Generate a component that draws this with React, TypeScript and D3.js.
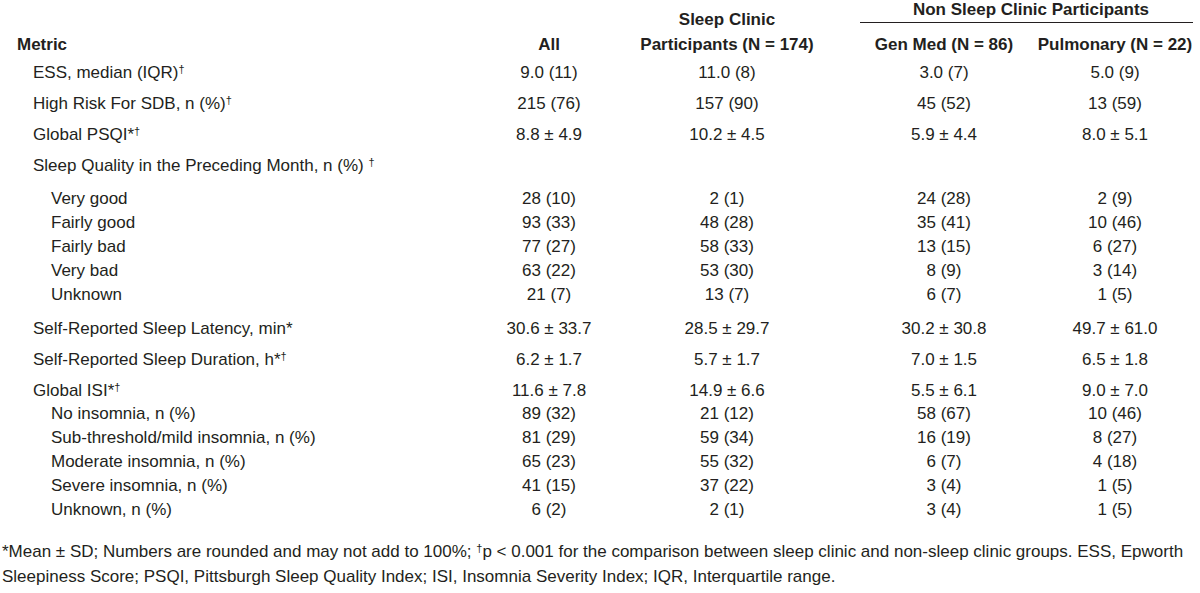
import React from "react";
import * as d3 from "d3";

const width = 1200;
const height = 593;
const font = "'Liberation Sans', Arial, Helvetica, sans-serif";

const columns = ["All", "Sleep Clinic Participants (N = 174)", "Gen Med (N = 86)", "Pulmonary (N = 22)"];
const groupHeader = "Non Sleep Clinic Participants";

// level 0 = main metric, 1 = sub-category
const rowLabels = [
  "ESS, median (IQR)†",
  "High Risk For SDB, n (%)†",
  "Global PSQI*†",
  "Sleep Quality in the Preceding Month, n (%) †",
  "Very good",
  "Fairly good",
  "Fairly bad",
  "Very bad",
  "Unknown",
  "Self-Reported Sleep Latency, min*",
  "Self-Reported Sleep Duration, h*†",
  "Global ISI*†",
  "No insomnia, n (%)",
  "Sub-threshold/mild insomnia, n (%)",
  "Moderate insomnia, n (%)",
  "Severe insomnia, n (%)",
  "Unknown, n (%)",
];
const rowLevels = [0, 0, 0, 0, 1, 1, 1, 1, 1, 0, 0, 0, 1, 1, 1, 1, 1];

const allValues = ["9.0 (11)", "215 (76)", "8.8 ± 4.9", "", "28 (10)", "93 (33)", "77 (27)", "63 (22)", "21 (7)", "30.6 ± 33.7", "6.2 ± 1.7", "11.6 ± 7.8", "89 (32)", "81 (29)", "65 (23)", "41 (15)", "6 (2)"];
const sleepClinicValues = ["11.0 (8)", "157 (90)", "10.2 ± 4.5", "", "2 (1)", "48 (28)", "58 (33)", "53 (30)", "13 (7)", "28.5 ± 29.7", "5.7 ± 1.7", "14.9 ± 6.6", "21 (12)", "59 (34)", "55 (32)", "37 (22)", "2 (1)"];
const genMedValues = ["3.0 (7)", "45 (52)", "5.9 ± 4.4", "", "24 (28)", "35 (41)", "13 (15)", "8 (9)", "6 (7)", "30.2 ± 30.8", "7.0 ± 1.5", "5.5 ± 6.1", "58 (67)", "16 (19)", "6 (7)", "3 (4)", "3 (4)"];
const pulmonaryValues = ["5.0 (9)", "13 (59)", "8.0 ± 5.1", "", "2 (9)", "10 (46)", "6 (27)", "3 (14)", "1 (5)", "49.7 ± 61.0", "6.5 ± 1.8", "9.0 ± 7.0", "10 (46)", "8 (27)", "4 (18)", "1 (5)", "1 (5)"];

const footnote = [
  "*Mean ± SD; Numbers are rounded and may not add to 100%; †p < 0.001 for the comparison between sleep clinic and non-sleep clinic groups. ESS, Epworth",
  "Sleepiness Score; PSQI, Pittsburgh Sleep Quality Index; ISI, Insomnia Severity Index; IQR, Interquartile range.",
];

const valueCols = [allValues, sleepClinicValues, genMedValues, pulmonaryValues];

const xCol = d3.scaleOrdinal<number, number>().domain([0, 1, 2, 3]).range([549, 727, 944, 1115]);
const xIndent = d3.scaleOrdinal<number, number>().domain([-1, 0, 1]).range([17, 33, 51]);

// vertical layout: main rows need more room than sub rows
const rowY: number[] = [];
{
  let y = 78;
  rowLabels.forEach((_, i) => {
    if (i > 0) {
      const prevHeader = allValues[i - 1] === "";
      if (rowLevels[i] === 1) y += prevHeader ? 33 : rowLevels[i - 1] === 0 ? 23 : 24;
      else y += rowLevels[i - 1] === 1 ? 34 : 31;
    }
    rowY.push(y);
  });
}

// render the dagger as a small raised mark
function withDagger(s: string) {
  const parts = s.split("†");
  const out: React.ReactNode[] = [];
  parts.forEach((p, i) => {
    if (i > 0) {
      out.push(<tspan key={"d" + i} fontSize={11} dy={-5}>†</tspan>);
      if (p) out.push(<tspan key={"p" + i} dy={5}>{p}</tspan>);
    } else if (p) {
      out.push(<tspan key={"p" + i}>{p}</tspan>);
    }
  });
  return out;
}

export default function App() {
  return (
    <svg width={width} height={height} style={{ position: "absolute", left: 0, top: 0, background: "#fff" }} fontFamily={font}>
      <g fill="#231f20" fontSize={17}>
        <text x={1031} y={15} textAnchor="middle" fontWeight="bold">{groupHeader}</text>
        <line x1={860} x2={1193} y1={22.5} y2={22.5} stroke="#231f20" strokeWidth={1} />
        <text x={xIndent(-1)} y={50} fontWeight="bold">Metric</text>
        <text x={xCol(0)} y={50} textAnchor="middle" fontWeight="bold">{columns[0]}</text>
        <text x={xCol(1)} y={25} textAnchor="middle" fontWeight="bold">Sleep Clinic</text>
        <text x={xCol(1)} y={50} textAnchor="middle" fontWeight="bold">Participants (N = 174)</text>
        <text x={xCol(2)} y={50} textAnchor="middle" fontWeight="bold">{columns[2]}</text>
        <text x={xCol(3)} y={50} textAnchor="middle" fontWeight="bold">{columns[3]}</text>
        {rowLabels.map((lab, i) => (
          <g key={i} transform={`translate(0,${rowY[i]})`}>
            <text x={xIndent(rowLevels[i])}>{withDagger(lab)}</text>
            {valueCols.map((vals, c) => (
              <text key={c} x={xCol(c)} textAnchor="middle">{vals[i]}</text>
            ))}
          </g>
        ))}
        {footnote.map((f, i) => (
          <text key={i} x={2} y={557 + i * 25}>{withDagger(f)}</text>
        ))}
      </g>
    </svg>
  );
}
